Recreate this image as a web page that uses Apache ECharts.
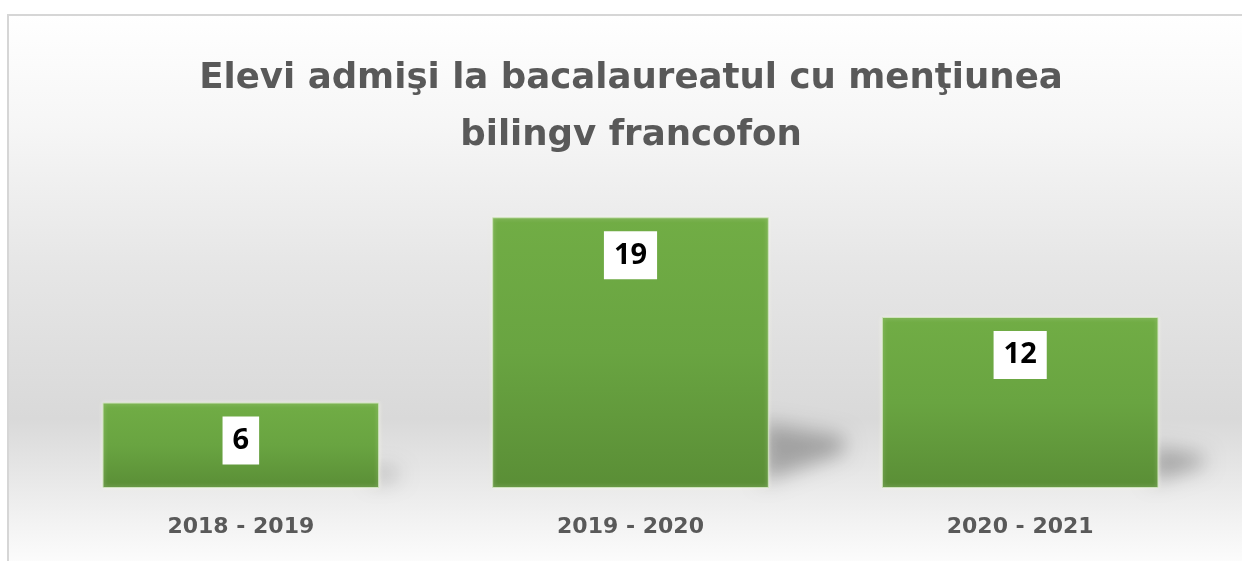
<!DOCTYPE html>
<html>
<head>
<meta charset="utf-8">
<script src="https://cdn.jsdelivr.net/npm/echarts@6/dist/echarts.min.js"></script>
<style>html,body{margin:0;padding:0;background:#fff}#c{width:1242px;height:561px}</style>
</head>
<body>
<div id="c"></div>
<script>
const titleLines = ['Elevi admişi la bacalaureatul cu menţiunea', 'bilingv francofon'];
const categories = ['2018 - 2019', '2019 - 2020', '2020 - 2021'];
const values = [6, 19, 12];

const BAR_GAP = 0.29;
const SHIFT = 3000;

const chart = echarts.init(document.getElementById('c'), null, {renderer: 'canvas'});
chart.setOption({
  animation: false,
  graphic: [
    {
      type: 'rect', z: -10, silent: true,
      shape: {x: 8, y: 15, width: 1240, height: 560},
      style: {
        fill: new echarts.graphic.LinearGradient(0, 0, 0, 1, [
          {offset: 0, color: '#ffffff'},
          {offset: 0.2, color: '#f6f6f6'},
          {offset: 0.45, color: '#e6e6e6'},
          {offset: 0.72, color: '#d9d9d9'},
          {offset: 0.9, color: '#f2f2f2'},
          {offset: 1, color: '#ffffff'}
        ]),
        stroke: '#d6d6d6', lineWidth: 2
      }
    },
    {
      type: 'text', silent: true, z: 10,
      style: {
        text: titleLines.join('\n'),
        x: 631, y: 50,
        align: 'center', verticalAlign: 'top',
        font: 'bold 35.6px "DejaVu Sans"',
        lineHeight: 57,
        fill: '#595959'
      }
    }
  ],
  grid: {left: 46, right: 27, top: 203, bottom: 73, containLabel: false},
  xAxis: {
    type: 'category',
    data: categories,
    axisLine: {show: false},
    axisTick: {show: false},
    axisLabel: {
      margin: 28, fontFamily: 'DejaVu Sans', fontWeight: 'bold', fontSize: 22, color: '#595959'
    }
  },
  yAxis: {
    type: 'value', min: 0, max: 20, interval: 5,
    show: false, splitLine: {show: false}
  },
  series: [
    {
      type: 'custom',
      z: 1,
      silent: true,
      clip: false,
      data: values.map((v, i) => [i, v]),
      renderItem: function (params, api) {
        const i = api.value(0), v = api.value(1);
        const top = api.coord([i, v]);
        const base = api.coord([i, 0]);
        const band = api.size([1, 0])[0];
        const bw = band * (1 - BAR_GAP);
        const xr = base[0] + bw / 2 - 6;
        const yb = base[1];
        const h = yb - top[1];
        const L = h * 0.3;
        const pts = [
          [xr - SHIFT, yb - 6],
          [xr - SHIFT, yb - h * 0.24],
          [xr + L - SHIFT, yb - h * 0.19],
          [xr + L - SHIFT, yb - h * 0.13]
        ];
        return {
          type: 'polygon',
          shape: {points: pts},
          style: {
            fill: '#000',
            shadowBlur: 20,
            shadowOffsetX: SHIFT,
            shadowColor: 'rgba(0,0,0,0.28)'
          }
        };
      }
    },
    {
      type: 'bar',
      z: 2,
      data: values,
      barCategoryGap: (BAR_GAP * 100) + '%',
      itemStyle: {
        color: new echarts.graphic.LinearGradient(0, 0, 0, 1, [
          {offset: 0, color: '#71ad45'},
          {offset: 0.5, color: '#69a441'},
          {offset: 1, color: '#5a8e36'}
        ]),
        borderColor: '#cfe3bd', borderWidth: 1,
        shadowColor: 'rgba(255,255,240,0.5)', shadowBlur: 4
      },
      label: {
        show: true, position: 'insideTop', distance: 14,
        backgroundColor: '#ffffff', padding: [8, 10, 8, 10],
        fontFamily: 'Open Sans', fontWeight: 'bold', fontSize: 29, lineHeight: 32, color: '#000000'
      }
    }
  ]
});
</script>
</body>
</html>
